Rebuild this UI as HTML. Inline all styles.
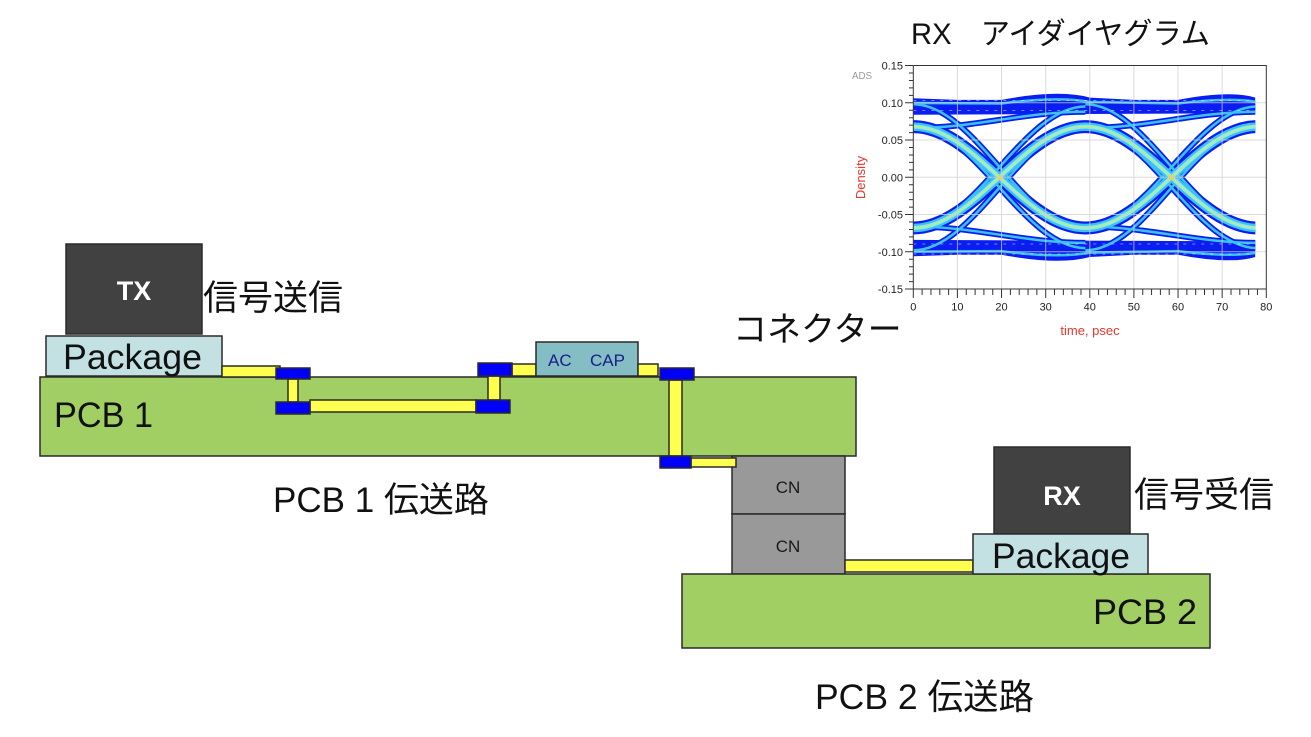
<!DOCTYPE html>
<html>
<head>
<meta charset="utf-8">
<style>
html,body{margin:0;padding:0;background:#fff;}
body{width:1311px;height:737px;overflow:hidden;}
svg{display:block;}
.l{font-family:"Liberation Sans","Noto Sans CJK JP",sans-serif;}
</style>
</head>
<body>
<svg width="1311" height="737" viewBox="0 0 1311 737" xmlns="http://www.w3.org/2000/svg">
<defs>
<clipPath id="plot"><rect x="913.3" y="60" width="342" height="232"/></clipPath>
</defs>

<!-- ===== Eye diagram ===== -->
<text x="911" y="44" class="l" font-size="30" fill="#111" textLength="299" lengthAdjust="spacingAndGlyphs">RX　アイダイヤグラム</text>
<text x="852" y="79" class="l" font-size="10" fill="#9a9a9a" textLength="20" lengthAdjust="spacingAndGlyphs">ADS</text>

<g clip-path="url(#plot)">
  <!-- rails -->
  <path d="M913.3,98.3 L957.4,99.9 L1001.5,99.9 Q1058.9,89 1089.8,97.6 L1134,99.9 L1178,99.9 Q1231,90 1255.3,97.6 L1255.3,113.2 L913.3,114.7 Z" fill="#0a1ef2"/>
  <path d="M913.3,256.3 L957.4,254.7 L1001.5,254.7 Q1058.9,265.6 1089.8,257 L1134,254.7 L1178,254.7 Q1231,264.6 1255.3,257 L1255.3,241.4 L913.3,239.9 Z" fill="#0a1ef2"/>
  <!-- blue strands -->
  <g fill="none" stroke="#0a1ef2" stroke-width="6">
    <path d="M913.3,104.3 C975.3,104.3 1023.4,229.5 1085.4,229.5 M1085.4,104.3 C1147.3,104.3 1195.5,229.5 1257.5,229.5"/>
    <path d="M913.3,250.3 C975.3,250.3 1023.4,125.2 1085.4,125.2 M1085.4,250.3 C1147.3,250.3 1195.5,125.2 1257.5,125.2"/>
    <path d="M913.3,126.6 C975.3,126.6 1023.4,248.1 1085.4,248.1 M1085.4,126.6 C1147.3,126.6 1195.5,248.1 1257.5,248.1"/>
    <path d="M913.3,228 C975.3,228 1023.4,106.5 1085.4,106.5 M1085.4,228 C1147.3,228 1195.5,106.5 1257.5,106.5"/>
    <path d="M913.3,128.1 C975.3,128.1 1023.4,111.7 1085.4,111.7 M1085.4,128.1 C1147.3,128.1 1195.5,111.7 1257.5,111.7"/>
    <path d="M913.3,226.5 C975.3,226.5 1023.4,242.9 1085.4,242.9 M1085.4,226.5 C1147.3,226.5 1195.5,242.9 1257.5,242.9"/>
  </g>
  <g fill="none" stroke="#0a1ef2" stroke-width="13">
    <path d="M913.3,126.6 C975.3,126.6 1023.4,228 1085.4,228 C1147.3,228 1195.5,126.6 1257.5,126.6"/>
    <path d="M913.3,228 C975.3,228 1023.4,126.6 1085.4,126.6 C1147.3,126.6 1195.5,228 1257.5,228"/>
  </g>
  <!-- cyan -->
  <g fill="none" stroke="#3cc2f2" stroke-width="2.5">
    <path d="M913.3,104.3 C975.3,104.3 1023.4,229.5 1085.4,229.5 M1085.4,104.3 C1147.3,104.3 1195.5,229.5 1257.5,229.5"/>
    <path d="M913.3,250.3 C975.3,250.3 1023.4,125.2 1085.4,125.2 M1085.4,250.3 C1147.3,250.3 1195.5,125.2 1257.5,125.2"/>
    <path d="M913.3,126.6 C975.3,126.6 1023.4,248.1 1085.4,248.1 M1085.4,126.6 C1147.3,126.6 1195.5,248.1 1257.5,248.1"/>
    <path d="M913.3,228 C975.3,228 1023.4,106.5 1085.4,106.5 M1085.4,228 C1147.3,228 1195.5,106.5 1257.5,106.5"/>
    <path d="M913.3,128.1 C975.3,128.1 1023.4,111.7 1085.4,111.7 M1085.4,128.1 C1147.3,128.1 1195.5,111.7 1257.5,111.7"/>
    <path d="M913.3,226.5 C975.3,226.5 1023.4,242.9 1085.4,242.9 M1085.4,226.5 C1147.3,226.5 1195.5,242.9 1257.5,242.9"/>
    <path d="M913.3,103 L1001.5,103.5 Q1058.9,96 1089.8,102 L1178,103.5 Q1231,97 1257,102"/>
    <path d="M913.3,251.6 L1001.5,251.1 Q1058.9,258.6 1089.8,252.6 L1178,251.1 Q1231,257.6 1257,252.6"/>
  </g>
  <g fill="none" stroke="#3cc2f2" stroke-width="8.5">
    <path d="M913.3,126.6 C975.3,126.6 1023.4,228 1085.4,228 C1147.3,228 1195.5,126.6 1257.5,126.6"/>
    <path d="M913.3,228 C975.3,228 1023.4,126.6 1085.4,126.6 C1147.3,126.6 1195.5,228 1257.5,228"/>
  </g>
  <g fill="none" stroke="#8fe4ff" stroke-width="4">
    <path d="M913.3,126.6 C975.3,126.6 1023.4,228 1085.4,228 C1147.3,228 1195.5,126.6 1257.5,126.6"/>
    <path d="M913.3,228 C975.3,228 1023.4,126.6 1085.4,126.6 C1147.3,126.6 1195.5,228 1257.5,228"/>
  </g>
  <g fill="none" stroke="#b4f27c" stroke-width="1.5">
    <path d="M913.3,126.6 C975.3,126.6 1023.4,228 1085.4,228 C1147.3,228 1195.5,126.6 1257.5,126.6"/>
    <path d="M913.3,228 C975.3,228 1023.4,126.6 1085.4,126.6 C1147.3,126.6 1195.5,228 1257.5,228"/>
  </g>
  <!-- speckle texture on rails -->
  <g fill="none" stroke="#ffffff" stroke-width="1" stroke-dasharray="3 6" opacity="0.45">
    <path d="M913.3,100.5 H1256 M913.3,110.5 H1256 M913.3,254 H1256 M913.3,244 H1256"/>
  </g>
  <circle cx="1000" cy="177.5" r="3" fill="#f0d040" opacity="0.8"/>
  <circle cx="1171.5" cy="177.5" r="3" fill="#f0d040" opacity="0.8"/>
</g>

<!-- grid -->
<g stroke="#cfcfcf" stroke-width="1" opacity="0.75">
  <path d="M957.4,66V289 M1001.55,66V289 M1045.7,66V289 M1089.8,66V289 M1133.9,66V289 M1178.05,66V289 M1222.15,66V289"/>
  <path d="M914,102.8H1266 M914,140.05H1266 M914,177.3H1266 M914,214.55H1266 M914,251.8H1266"/>
</g>
<!-- frame & axes -->
<g fill="none" stroke="#333" stroke-width="1">
  <path d="M913.3,65.5H1266.3V289"/>
  <path d="M913.3,65.5V289.05H1266.3"/>
  <path d="M905,65.55H913 M905,102.8H913 M905,140.05H913 M905,177.3H913 M905,214.55H913 M905,251.8H913 M905,289.05H913"/>
  <path d="M909,73H913 M909,80.45H913 M909,87.9H913 M909,95.35H913 M909,110.25H913 M909,117.7H913 M909,125.15H913 M909,132.6H913 M909,147.5H913 M909,154.95H913 M909,162.4H913 M909,169.85H913 M909,184.75H913 M909,192.2H913 M909,199.65H913 M909,207.1H913 M909,222H913 M909,229.45H913 M909,236.9H913 M909,244.35H913 M909,259.25H913 M909,266.7H913 M909,274.15H913 M909,281.6H913"/>
  <path d="M913.3,289V298 M957.4,289V298 M1001.55,289V298 M1045.7,289V298 M1089.8,289V298 M1133.9,289V298 M1178.05,289V298 M1222.15,289V298 M1266.3,289V298"/>
  <path d="M922.1,289V295 M930.95,289V295 M939.8,289V295 M948.6,289V295 M966.25,289V295 M975.1,289V295 M983.9,289V295 M992.75,289V295 M1010.4,289V295 M1019.2,289V295 M1028.05,289V295 M1036.85,289V295 M1054.5,289V295 M1063.35,289V295 M1072.15,289V295 M1081,289V295 M1098.6,289V295 M1107.45,289V295 M1116.25,289V295 M1125.1,289V295 M1142.75,289V295 M1151.55,289V295 M1160.4,289V295 M1169.2,289V295 M1186.85,289V295 M1195.7,289V295 M1204.5,289V295 M1213.35,289V295 M1231,289V295 M1239.8,289V295 M1248.65,289V295 M1257.45,289V295"/>
</g>
<g class="l" font-size="11" fill="#222" text-anchor="end">
  <text x="903" y="69.5">0.15</text>
  <text x="903" y="106.8">0.10</text>
  <text x="903" y="144">0.05</text>
  <text x="903" y="181.3">0.00</text>
  <text x="903" y="218.5">-0.05</text>
  <text x="903" y="255.8">-0.10</text>
  <text x="903" y="293">-0.15</text>
</g>
<g class="l" font-size="11" fill="#222" text-anchor="middle">
  <text x="913.3" y="310.5">0</text>
  <text x="957.4" y="310.5">10</text>
  <text x="1001.55" y="310.5">20</text>
  <text x="1045.7" y="310.5">30</text>
  <text x="1089.8" y="310.5">40</text>
  <text x="1133.9" y="310.5">50</text>
  <text x="1178.05" y="310.5">60</text>
  <text x="1222.15" y="310.5">70</text>
  <text x="1266.3" y="310.5">80</text>
</g>
<text class="l" font-size="13" fill="#e8362c" text-anchor="middle" transform="translate(865,177.5) rotate(-90)">Density</text>
<text class="l" font-size="13" fill="#e8362c" text-anchor="middle" x="1090" y="335">time, psec</text>

<!-- ===== PCB 1 ===== -->
<g stroke="#2a2a2a" stroke-width="1.5">
  <rect x="40" y="377" width="816" height="79" fill="#a2cf63"/>
  <rect x="66" y="244" width="136" height="90" fill="#414141"/>
  <rect x="46" y="336" width="176" height="40" fill="#c3e1e3"/>
  <rect x="222" y="366" width="58" height="11" fill="#ffff50"/>
  <rect x="310" y="400" width="166" height="12" fill="#ffff50"/>
  <rect x="288" y="379" width="10" height="23" fill="#ffff50"/>
  <rect x="276" y="368" width="34" height="11" fill="#0000fa"/>
  <rect x="276" y="402" width="34" height="12" fill="#0000fa"/>
  <rect x="488" y="376" width="12" height="24" fill="#ffff50"/>
  <rect x="476" y="400" width="34" height="13" fill="#0000fa"/>
  <rect x="512" y="364" width="24" height="12" fill="#ffff50"/>
  <rect x="478" y="363" width="34" height="13" fill="#0000fa"/>
  <rect x="536" y="342" width="102" height="34" fill="#84bdc3"/>
  <rect x="638" y="364" width="20" height="12" fill="#ffff50"/>
  <rect x="669" y="380" width="13" height="76" fill="#ffff50"/>
  <rect x="660" y="368" width="34" height="12" fill="#0000fa"/>
  <!-- connector -->
  <rect x="732" y="456" width="113" height="58" fill="#999999"/>
  <rect x="732" y="514" width="113" height="60" fill="#999999"/>
  <rect x="691" y="458" width="45" height="9" fill="#ffff50"/>
  <rect x="660" y="456" width="31" height="12" fill="#0000fa"/>
  <!-- PCB 2 -->
  <rect x="682" y="574" width="528" height="74" fill="#a2cf63"/>
  <rect x="845" y="560" width="128" height="12" fill="#ffff50"/>
  <rect x="994" y="447" width="136" height="87" fill="#414141"/>
  <rect x="973" y="534" width="175" height="40" fill="#c3e1e3"/>
</g>

<!-- labels -->
<text x="134" y="300" class="l" font-size="27" font-weight="bold" fill="#fff" text-anchor="middle">TX</text>
<text x="1062" y="505" class="l" font-size="27" font-weight="bold" fill="#fff" text-anchor="middle">RX</text>
<text x="203" y="310" class="l" font-size="35" fill="#111">信号送信</text>
<text x="1134" y="507" class="l" font-size="35" fill="#111">信号受信</text>
<text x="733" y="341" class="l" font-size="34" fill="#111">コネクター</text>
<text x="63" y="369" class="l" font-size="35" fill="#111" textLength="139" lengthAdjust="spacingAndGlyphs">Package</text>
<text x="992" y="568" class="l" font-size="35" fill="#111" textLength="138" lengthAdjust="spacingAndGlyphs">Package</text>
<text x="54" y="427" class="l" font-size="35" fill="#111" textLength="99" lengthAdjust="spacingAndGlyphs">PCB 1</text>
<text x="1093" y="624" class="l" font-size="35" fill="#111" textLength="104" lengthAdjust="spacingAndGlyphs">PCB 2</text>
<text x="273" y="512" class="l" font-size="35" fill="#111">PCB 1 伝送路</text>
<text x="815" y="709" class="l" font-size="35.5" fill="#111">PCB 2 伝送路</text>
<text x="548" y="366" class="l" font-size="17" fill="#1c1c8c">AC</text>
<text x="590" y="366" class="l" font-size="17" fill="#1c1c8c">CAP</text>
<text x="788" y="493" class="l" font-size="17" fill="#1a1a1a" text-anchor="middle">CN</text>
<text x="788" y="552" class="l" font-size="17" fill="#1a1a1a" text-anchor="middle">CN</text>
</svg>
</body>
</html>
